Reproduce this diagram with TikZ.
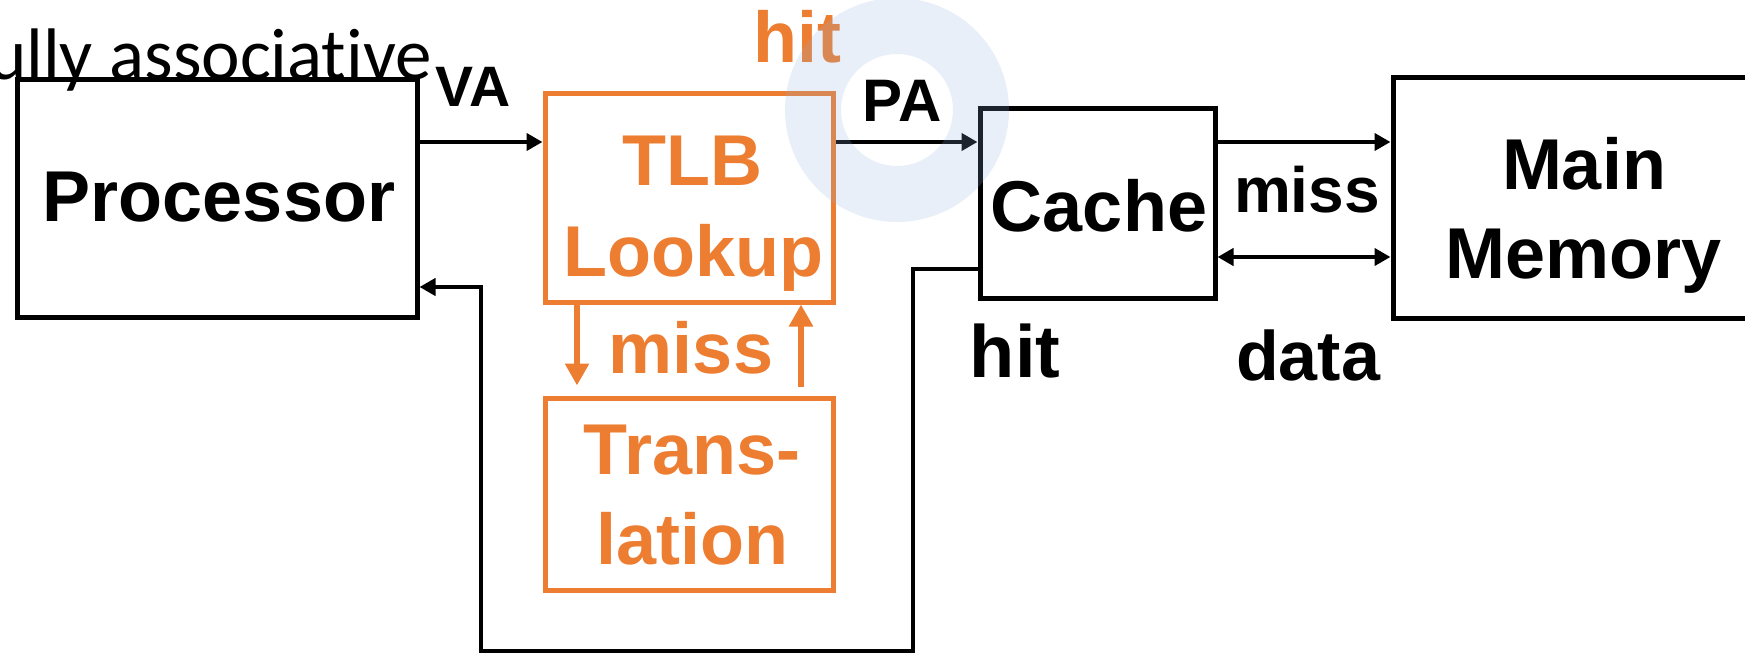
\documentclass[tikz,border=0pt]{standalone}
\usepackage{fontspec}
\setmainfont{Liberation Sans}
\newfontfamily\notefont[Ligatures=NoCommon]{Carlito}
\usetikzlibrary{arrows.meta}
\definecolor{tlborange}{RGB}{237,125,49}
\definecolor{ringblue}{RGB}{140,175,220}

\begin{document}
\begin{tikzpicture}[x=1pt, y=-1pt, >={Triangle[length=16pt, width=17pt]},
    box/.style={draw, line width=5pt, inner sep=0pt},
    obox/.style={box, draw=tlborange},
    lbl/.style={font=\bfseries\fontsize{#1}{#1}\selectfont, inner sep=0pt, anchor=base},
    lbl/.default=72,
    olbl/.style={lbl, text=tlborange},
    link/.style={line width=4.5pt},
    olink/.style={draw=tlborange, line width=5.5pt, >={Triangle[length=22pt, width=23pt]}}]
    \useasboundingbox (0,0) rectangle (1745,655);
    \clip (0,0) rectangle (1745,655);

    % Rest of the line above the figure
    \node[font=\notefont\fontsize{73}{73}\selectfont, anchor=base west, inner sep=0pt] (note) at (-12,80) {ully associative};

    % Boxes
    \node[box, minimum width=400, minimum height=237] (proc) at (217,198.5) {};
    \node[obox, minimum width=288, minimum height=208] (tlb) at (689,198) {};
    \node[obox, minimum width=288, minimum height=192] (xlat) at (689,494) {};
    \node[box, minimum width=235, minimum height=189] (cache) at (1097.5,203.5) {};
    \node[box, minimum width=382, minimum height=240] (mem) at (1584,198) {};

    % Box texts
    \node[lbl] (proctxt) at (219,222) {Processor};
    \node[olbl] (tlbtxt) at (692,186) {TLB};
    \node[olbl] (lookup) at (693,276) {Lookup};
    \node[olbl] (xlattxt) at (692,474) {Trans-};
    \node[olbl] (lation) at (692,564) {lation};
    \node[lbl] (cachetxt) at (1099,232) {Cache};
    \node[lbl] (memtxt) at (1584,190) {Main};
    \node[lbl] (memory) at (1584,278) {Memory};

    % Processor -> TLB -> Cache -> Memory
    \draw[link, ->] (proc.east |- 0,142) -- (tlb.west |- 0,142);
    \draw[link, ->] (tlb.east |- 0,142) -- (cache.west |- 0,142);
    \draw[link, ->] (cache.east |- 0,142) -- (mem.west |- 0,142);
    \draw[link, <->] (cache.east |- 0,257) -- (mem.west |- 0,257);

    % Cache hit back to the processor
    \draw[link, ->] (cache.west |- 0,269) -- (913,269) -- (913,651) -- (481,651)
        -- (481,287) -- (proc.east |- 0,287);

    % TLB miss and translation
    \draw[olink, ->, shorten >=10pt] (tlb.south -| 577,0) -- (xlat.north -| 577,0);
    \draw[olink, ->, shorten <=9pt] (xlat.north -| 801,0) -- (tlb.south -| 801,0);

    % Labels
    \node[lbl=57] (va) at (473,107) {VA};
    \node[lbl=60] (pa) at (902,122) {PA};
    \node[olbl=70] (tlbhit) at (797,63) {hit};
    \node[olbl] (tlbmiss) at (691,373) {miss};
    \node[lbl=64] (memmiss) at (1307,213) {miss};
    \node[lbl=70] (data) at (1308,380) {data};
    \node[lbl=74] (cachehit) at (1015,377) {hit};

    % Highlight ring round PA
    \fill[ringblue, opacity=0.2, even odd rule] (897,110) circle[radius=112] (897,110) circle[radius=56];
\end{tikzpicture}
\end{document}
